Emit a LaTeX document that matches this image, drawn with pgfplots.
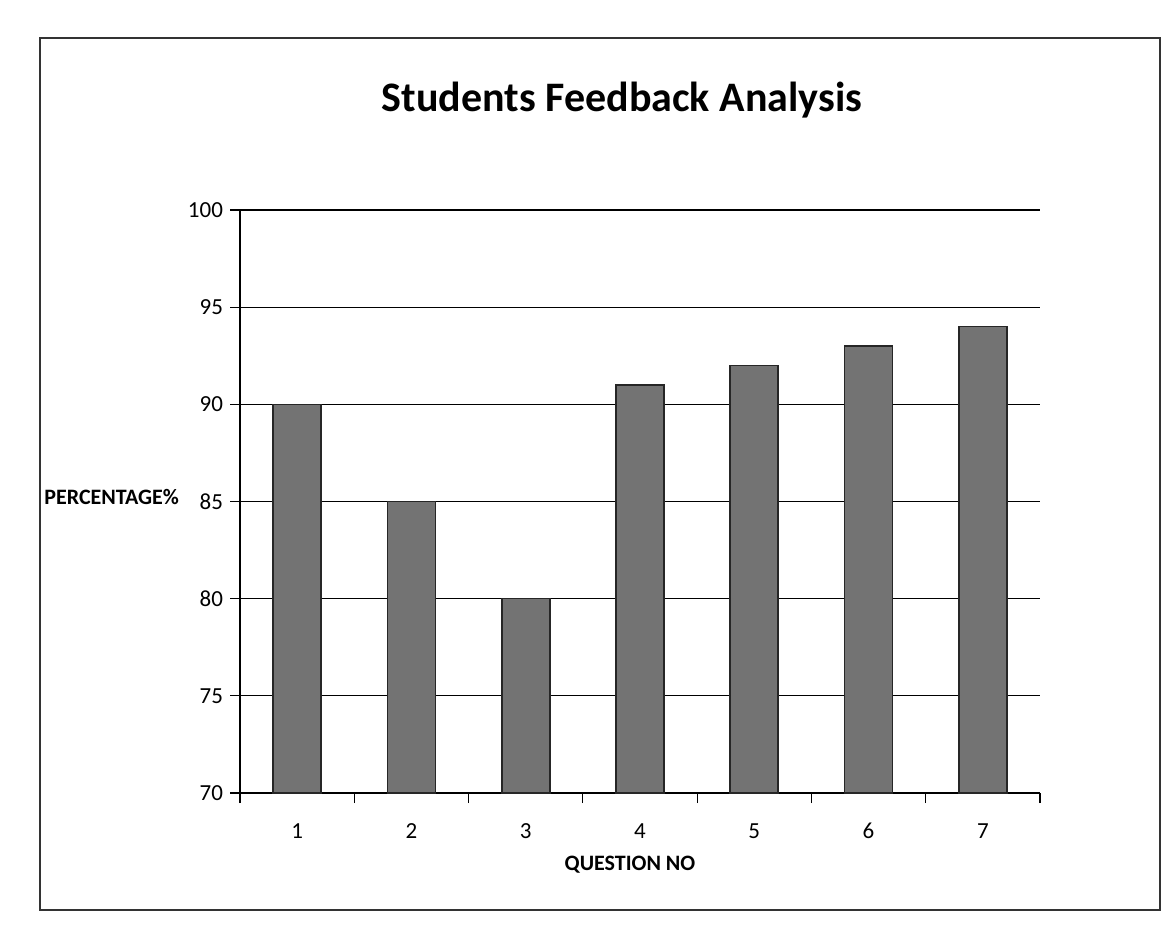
\documentclass[border=0pt]{standalone}
\usepackage{fontspec}
\setmainfont{Carlito}
\usepackage{pgfplots}
\pgfplotsset{compat=1.18}
\begin{document}
\begin{tikzpicture}[x=1pt,y=1pt]
\useasboundingbox (0,0) rectangle (586.5,469);
\fill[white] (0,0) rectangle (586.5,469);
\draw[black!80, line width=0.8pt] (20,14) rectangle (580,450);
\node[font=\fontsize{21}{24}\selectfont\bfseries] at (311,419) {Students Feedback Analysis};
\begin{axis}[
  at={(120pt,72.5pt)}, anchor=south west,
  scale only axis, width=400pt, height=291.5pt,
  xmin=0.5, xmax=7.5, ymin=70, ymax=100,
  ytick={70,75,...,100},
  xtick={0.5,1.5,...,7.5},
  xticklabels={1,2,3,4,5,6,7,{}},
  x tick label as interval,
  ymajorgrids, xmajorgrids=false, grid style={black, line width=0.6pt},
  axis x line*=bottom, axis y line*=left,
  axis line style={black, line width=0.6pt},
  tick style={black, line width=0.6pt}, tick align=outside, major tick length=5pt,
  tick label style={font=\fontsize{11.5}{13}\selectfont},
  /pgf/number format/assume math mode=true,
  xticklabel style={yshift=-6pt, text height=8pt, text depth=0pt},
  ybar, bar width=24pt,
  clip=false,
]
\addplot[fill=black!55, draw=black!85, line width=0.8pt] coordinates {
(1,90) (2,85) (3,80) (4,91) (5,92) (6,93) (7,94)
};
\end{axis}
\node[font=\fontsize{11}{13}\selectfont\bfseries] at (315,36.5) {QUESTION NO};
\node[anchor=east, font=\fontsize{11}{13}\selectfont\bfseries] at (93,220.5) {PERCENTAGE\%};
\end{tikzpicture}
\end{document}
